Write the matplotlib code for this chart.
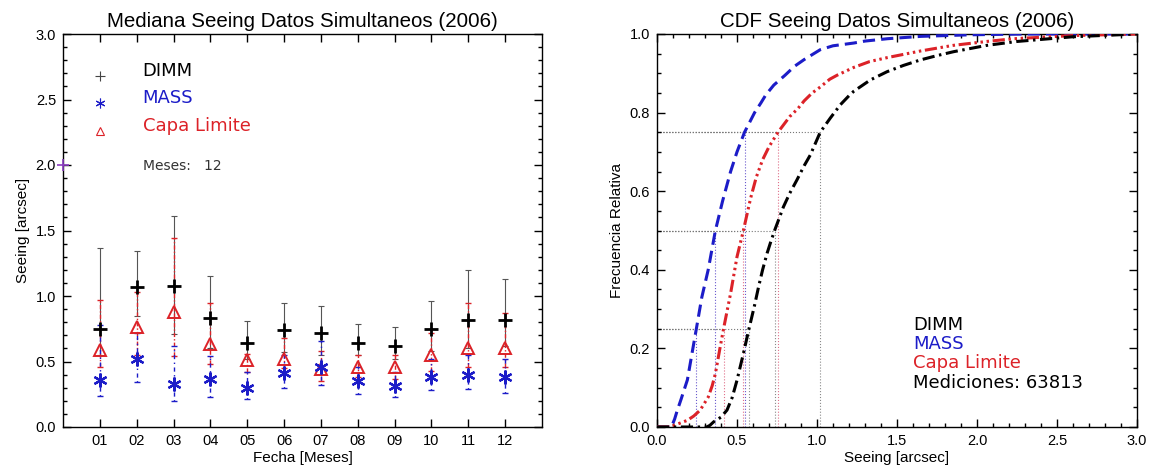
import matplotlib
matplotlib.use('Agg')
from matplotlib import pyplot as plt
from matplotlib.ticker import MultipleLocator
import numpy as np

# ---- panel 1: monthly medians with error bars
meses = ['01', '02', '03', '04', '05', '06', '07', '08', '09', '10', '11', '12']
mes_num = list(range(1, 13))

dimm_med = [0.75, 1.07, 1.08, 0.83, 0.64, 0.74, 0.72, 0.64, 0.62, 0.75, 0.82, 0.82]
dimm_low = [0.55, 0.85, 0.71, 0.60, 0.52, 0.57, 0.55, 0.55, 0.52, 0.58, 0.60, 0.62]
dimm_up = [1.37, 1.34, 1.61, 1.15, 0.81, 0.95, 0.92, 0.79, 0.76, 0.96, 1.20, 1.13]

capa_med = [0.59, 0.76, 0.88, 0.63, 0.51, 0.52, 0.44, 0.46, 0.46, 0.55, 0.60, 0.60]
capa_low = [0.46, 0.55, 0.54, 0.48, 0.42, 0.45, 0.35, 0.38, 0.37, 0.43, 0.46, 0.46]
capa_up = [0.97, 1.03, 1.44, 0.95, 0.56, 0.68, 0.58, 0.55, 0.55, 0.72, 0.95, 0.87]

mass_med = [0.36, 0.52, 0.33, 0.37, 0.30, 0.41, 0.46, 0.35, 0.31, 0.38, 0.40, 0.38]
mass_low = [0.24, 0.34, 0.20, 0.23, 0.21, 0.30, 0.32, 0.25, 0.23, 0.28, 0.29, 0.26]
mass_up = [0.78, 0.72, 0.62, 0.54, 0.42, 0.55, 0.66, 0.46, 0.42, 0.52, 0.55, 0.52]

n_meses = 12
stray_pt = (0, 2.0)   # little purple mark on the left axis in the original

# ---- panel 2: CDFs
mass_x = [0.0, 0.09, 0.11, 0.125, 0.15, 0.19, 0.22, 0.246, 0.28, 0.32, 0.365, 0.41, 0.46,
          0.50, 0.547, 0.61, 0.65, 0.68, 0.73, 0.80, 0.86, 0.92, 1.02, 1.10, 1.23, 1.30,
          1.44, 1.65, 1.96, 2.3, 3.0]
mass_y = [0.0, 0.0, 0.02, 0.04, 0.07, 0.12, 0.19, 0.25, 0.33, 0.40, 0.50, 0.575, 0.65,
          0.70, 0.75, 0.80, 0.825, 0.845, 0.87, 0.895, 0.918, 0.935, 0.96, 0.97, 0.977, 0.982,
          0.988, 0.994, 0.998, 1.0, 1.0]

capa_x = [0.0, 0.08, 0.19, 0.23, 0.27, 0.32, 0.345, 0.365, 0.395, 0.416, 0.46, 0.50, 0.54,
          0.585, 0.62, 0.66, 0.70, 0.756, 0.83, 0.88, 0.92, 0.97, 1.02, 1.08, 1.125, 1.23,
          1.33, 1.44, 1.65, 1.85, 2.06, 2.23, 2.6, 3.0]
capa_y = [0.0, 0.0, 0.017, 0.028, 0.043, 0.076, 0.105, 0.136, 0.204, 0.25, 0.34, 0.433, 0.50,
          0.582, 0.635, 0.68, 0.713, 0.75, 0.79, 0.81, 0.83, 0.85, 0.865, 0.885, 0.895, 0.915,
          0.93, 0.94, 0.957, 0.971, 0.981, 0.988, 0.996, 1.0]

dimm_x = [0.0, 0.31, 0.33, 0.354, 0.40, 0.4375, 0.47, 0.50, 0.54, 0.575, 0.61, 0.635, 0.66,
          0.688, 0.71, 0.735, 0.79, 0.83, 0.875, 0.92, 0.958, 1.02, 1.083, 1.146, 1.20, 1.229,
          1.333, 1.4375, 1.54, 1.646, 1.75, 1.854, 2.06, 2.25, 2.6, 3.0]
dimm_y = [0.0, 0.0, 0.004, 0.013, 0.025, 0.043, 0.075, 0.119, 0.187, 0.25, 0.31, 0.357, 0.40,
          0.442, 0.47, 0.50, 0.56, 0.595, 0.629, 0.665, 0.692, 0.75, 0.786, 0.82, 0.843, 0.854,
          0.883, 0.904, 0.92, 0.934, 0.945, 0.955, 0.971, 0.981, 0.993, 1.0]

niveles = [0.25, 0.5, 0.75]
mass_q = [0.246, 0.365, 0.547]
capa_q = [0.416, 0.54, 0.756]
dimm_q = [0.575, 0.735, 1.02]
mediciones = 63813

BLUE = '#1c1cc8'
RED = '#dc2228'
BLACK = '#000000'
TXT_FONT = 'DejaVu Sans'

plt.rcParams['font.family'] = ['Liberation Sans', 'DejaVu Sans']
plt.rcParams['axes.linewidth'] = 1.0

fig = plt.figure(figsize=(11.49, 4.70), dpi=100)
ax1 = fig.add_axes([63 / 1149, 43 / 470, 479 / 1149, 393 / 470])
ax2 = fig.add_axes([657 / 1149, 43 / 470, 480 / 1149, 393 / 470])

# ----------------------------------------------------------------- left
def barras(ax, med, low, up, color, ls, lw, cap):
    med = np.array(med)
    err = [med - np.array(low), np.array(up) - med]
    eb = ax.errorbar(mes_num, med, yerr=err, fmt='none', ecolor=color,
                     elinewidth=lw, capsize=cap, capthick=lw, zorder=2)
    for lc in eb[2]:
        lc.set_linestyle(ls)

barras(ax1, dimm_med, dimm_low, dimm_up, '#555555', '-', 0.8, 2.5)
barras(ax1, capa_med, capa_low, capa_up, RED, (0, (3, 1.5, 1, 1.5)), 1.0, 2)
barras(ax1, mass_med, mass_low, mass_up, BLUE, (0, (1, 2.5, 3, 2.5)), 1.0, 2)

ax1.plot(mes_num, dimm_med, '+', color=BLACK, ms=10, mew=2.0, zorder=4)
ax1.plot(mes_num, capa_med, '^', color=RED, mfc='none', ms=9, mew=1.4, zorder=4)
ax1.plot(mes_num, mass_med, marker=(6, 2, 0), ls='none', color=BLUE, ms=10, mew=1.6, zorder=4)
ax1.plot([stray_pt[0]], [stray_pt[1]], '+', color='#8a3cc0', ms=8, mew=1.2, clip_on=False, zorder=5)

# legend written by hand like the original
ax1.plot([1.0], [2.68], '+', color='#444444', ms=7, mew=0.8)
ax1.plot([1.0], [2.47], marker=(6, 2, 0), ls='none', color=BLUE, ms=7, mew=0.8)
ax1.plot([1.0], [2.26], '^', color=RED, mfc='none', ms=6, mew=0.8)
ax1.text(2.16, 2.72, 'DIMM', color=BLACK, fontsize=13, va='center', family=TXT_FONT)
ax1.text(2.16, 2.51, 'MASS', color=BLUE, fontsize=13, va='center', family=TXT_FONT)
ax1.text(2.16, 2.30, 'Capa Limite', color=RED, fontsize=13, va='center', family=TXT_FONT)
ax1.text(2.16, 1.99, 'Meses:   %d' % n_meses, color='#333333', fontsize=10, va='center',
         family=TXT_FONT)

ax1.set_xlim(0, 13)
ax1.set_ylim(0, 3)
ax1.set_xticks(mes_num)
ax1.set_xticklabels(meses)
ax1.yaxis.set_major_locator(MultipleLocator(0.5))
ax1.yaxis.set_minor_locator(MultipleLocator(0.1))
ax1.tick_params(which='both', direction='in', top=True, right=True, labelsize=10.5, width=1)
ax1.tick_params(which='major', length=6, pad=5)
ax1.tick_params(which='minor', length=3)
ax1.set_title('Mediana Seeing Datos Simultaneos (2006)', fontsize=14.8, pad=5)
ax1.set_xlabel('Fecha [Meses]', fontsize=11, labelpad=2)
ax1.set_ylabel('Seeing [arcsec]', fontsize=11, labelpad=4)

# ----------------------------------------------------------------- right
vcol = {'mass': '#6a5acd', 'capa': '#e0708a', 'dimm': '#8a8a8a'}
for qs, key in [(mass_q, 'mass'), (capa_q, 'capa'), (dimm_q, 'dimm')]:
    for q, lev in zip(qs, niveles):
        ax2.plot([q, q], [0, lev], ls=':', lw=0.8, color=vcol[key], zorder=1)
        ax2.plot([0, q], [lev, lev], ls=':', lw=0.8, color='#777777', zorder=1)

ax2.plot(mass_x, mass_y, color=BLUE, lw=2.2, dashes=(4, 2), zorder=3)
ax2.plot(capa_x, capa_y, color=RED, lw=2.2, dashes=(4, 1.2, 0.8, 1.2, 0.8, 1.2, 0.8, 1.2), zorder=3)
ax2.plot(dimm_x, dimm_y, color=BLACK, lw=2.2, dashes=(4, 1.5, 0.8, 1.5), zorder=3)

ax2.text(1.60, 0.246, 'DIMM', color=BLACK, fontsize=13, va='baseline', family=TXT_FONT)
ax2.text(1.60, 0.198, 'MASS', color=BLUE, fontsize=13, va='baseline', family=TXT_FONT)
ax2.text(1.60, 0.149, 'Capa Limite', color=RED, fontsize=13, va='baseline', family=TXT_FONT)
ax2.text(1.60, 0.100, 'Mediciones: %d' % mediciones, color=BLACK, fontsize=13, va='baseline',
         family=TXT_FONT)

ax2.set_xlim(0, 3)
ax2.set_ylim(0, 1)
ax2.xaxis.set_major_locator(MultipleLocator(0.5))
ax2.xaxis.set_minor_locator(MultipleLocator(0.1))
ax2.yaxis.set_major_locator(MultipleLocator(0.2))
ax2.yaxis.set_minor_locator(MultipleLocator(0.05))
ax2.tick_params(which='both', direction='in', top=True, right=True, labelsize=10.5, width=1)
ax2.tick_params(which='major', length=6, pad=5)
ax2.tick_params(which='minor', length=3)
ax2.set_title('CDF Seeing Datos Simultaneos (2006)', fontsize=14.8, pad=5)
ax2.set_xlabel('Seeing [arcsec]', fontsize=11, labelpad=2)
ax2.set_ylabel('Frecuencia Relativa', fontsize=11, labelpad=4)

fig.savefig('out.png', dpi=100)
